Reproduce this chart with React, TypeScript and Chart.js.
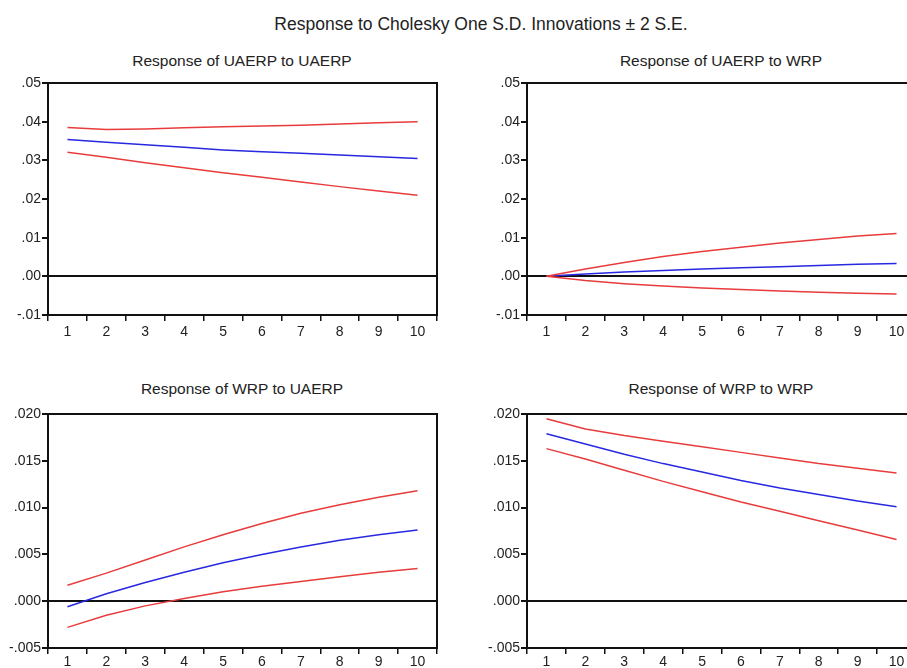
import React, { useEffect, useRef } from 'react';
import { Chart, registerables } from 'chart.js';

Chart.register(...registerables);

// ---------- data ----------
const periods = ['1', '2', '3', '4', '5', '6', '7', '8', '9', '10'];

// Response of UAERP to UAERP
const uuResp = [0.0354, 0.0347, 0.0340, 0.0334, 0.0327, 0.0322, 0.0318, 0.0314, 0.0309, 0.0305];
const uuUpper = [0.0385, 0.0380, 0.0381, 0.0384, 0.0387, 0.0389, 0.0391, 0.0394, 0.0397, 0.0400];
const uuLower = [0.0321, 0.0308, 0.0294, 0.0281, 0.0268, 0.0256, 0.0244, 0.0232, 0.0221, 0.0210];

// Response of UAERP to WRP
const uwResp = [0.0, 0.0006, 0.0011, 0.0015, 0.0019, 0.0022, 0.0025, 0.0028, 0.0031, 0.0033];
const uwUpper = [0.0, 0.0019, 0.0036, 0.0051, 0.0064, 0.0075, 0.0086, 0.0095, 0.0104, 0.0111];
const uwLower = [0.0, -0.0011, -0.0019, -0.0025, -0.0030, -0.0034, -0.0038, -0.0041, -0.0044, -0.0046];

// Response of WRP to UAERP
const wuResp = [-0.0006, 0.0008, 0.0020, 0.0031, 0.0041, 0.0050, 0.0058, 0.0065, 0.0071, 0.0076];
const wuUpper = [0.0017, 0.0030, 0.0044, 0.0058, 0.0071, 0.0083, 0.0094, 0.0103, 0.0111, 0.0118];
const wuLower = [-0.0028, -0.0015, -0.0005, 0.0003, 0.0010, 0.0016, 0.0021, 0.0026, 0.0031, 0.0035];

// Response of WRP to WRP
const wwResp = [0.0179, 0.0168, 0.0157, 0.0147, 0.0138, 0.0129, 0.0121, 0.0114, 0.0107, 0.0101];
const wwUpper = [0.0195, 0.0184, 0.0177, 0.0171, 0.0165, 0.0159, 0.0153, 0.0147, 0.0142, 0.0137];
const wwLower = [0.0163, 0.0152, 0.0140, 0.0128, 0.0117, 0.0106, 0.0096, 0.0086, 0.0076, 0.0066];

const mainTitle = 'Response to Cholesky One S.D. Innovations \u00B1 2 S.E.';
const panelTitles = [
  'Response of UAERP to UAERP',
  'Response of UAERP to WRP',
  'Response of WRP to UAERP',
  'Response of WRP to WRP',
];

// ---------- styling ----------
const FONT = '"Liberation Sans", Arial, Helvetica, sans-serif';
const RED = 'rgb(232, 60, 60)';
const BLUE = 'rgb(40, 40, 225)';
const INK = '#111';
const TEXT = '#222';

function fmt(decimals: number) {
  return (v: number | string) => {
    let n = Number(v);
    if (Math.abs(n) < 1e-12) n = 0;
    const s = n.toFixed(decimals);
    return s.replace(/^(-?)0\./, '$1.');
  };
}

const boxPlugin = {
  id: 'box',
  afterDraw(chart: any) {
    const { ctx, chartArea: a } = chart;
    ctx.save();
    ctx.strokeStyle = INK;
    ctx.lineWidth = 2;
    ctx.strokeRect(a.left, a.top, a.right - a.left, a.bottom - a.top);
    ctx.restore();
  },
};

type PanelProps = {
  left: number;
  top: number;
  width: number;
  height: number;
  resp: number[];
  upper: number[];
  lower: number[];
  min: number;
  max: number;
  step: number;
  decimals: number;
  xPad: number;
};

function Panel(p: PanelProps) {
  const ref = useRef<HTMLCanvasElement | null>(null);
  useEffect(() => {
    if (!ref.current) return;
    const line = (data: number[], color: string) => ({
      data,
      borderColor: color,
      backgroundColor: color,
      borderWidth: 1.5,
      pointRadius: 0,
      tension: 0,
      fill: false,
    });
    const chart = new Chart(ref.current, {
      type: 'line',
      data: {
        labels: periods,
        datasets: [line(p.upper, RED), line(p.lower, RED), line(p.resp, BLUE)],
      },
      options: {
        responsive: false,
        maintainAspectRatio: false,
        animation: false,
        layout: { padding: { top: 43, right: 15, left: 0, bottom: 0 } },
        plugins: {
          legend: { display: false },
          tooltip: { enabled: false },
          title: { display: false },
        },
        scales: {
          x: {
            type: 'category',
            offset: true,
            grid: {
              offset: true,
              drawOnChartArea: false,
              tickColor: INK,
              tickLength: 6,
              lineWidth: 1.5,
            },
            border: { display: true, color: INK, width: 2 },
            ticks: {
              font: { family: FONT, size: 14 },
              color: TEXT,
              padding: p.xPad,
              maxRotation: 0,
              autoSkip: false,
            },
            afterFit: (s: any) => {
              s.height = 25;
            },
          },
          y: {
            type: 'linear',
            min: p.min,
            max: p.max,
            grid: {
              color: (c: any) =>
                c.tick && Math.abs(c.tick.value) < 1e-12 ? INK : 'rgba(0,0,0,0)',
              tickColor: INK,
              tickLength: 6,
              lineWidth: 2,
            },
            border: { display: true, color: INK, width: 2 },
            ticks: {
              stepSize: p.step,
              callback: fmt(p.decimals),
              font: { family: FONT, size: 14 },
              color: TEXT,
              padding: 1,
            },
            afterFit: (s: any) => {
              s.width = 48;
            },
          },
        },
      } as any,
      plugins: [boxPlugin],
    });
    return () => chart.destroy();
  }, []);
  return (
    <canvas
      ref={ref}
      width={p.width}
      height={p.height}
      style={{ position: 'absolute', left: p.left, top: p.top, width: p.width, height: p.height }}
    />
  );
}

function Label({ text, cx, cy, size }: { text: string; cx: number; cy: number; size: number }) {
  return (
    <div
      style={{
        position: 'absolute',
        left: cx - 300,
        top: cy - 12,
        width: 600,
        height: 24,
        lineHeight: '24px',
        textAlign: 'center',
        fontFamily: FONT,
        fontSize: size,
        color: TEXT,
        whiteSpace: 'nowrap',
      }}
    >
      {text}
    </div>
  );
}

export default function App() {
  return (
    <div
      style={{
        position: 'fixed',
        left: 0,
        top: 0,
        width: 907,
        height: 668,
        overflow: 'hidden',
        background: '#fff',
      }}
    >
      <Label text={mainTitle} cx={481} cy={23.5} size={17.5} />
      <Label text={panelTitles[0]} cx={242} cy={60.5} size={15.5} />
      <Label text={panelTitles[1]} cx={721} cy={60.5} size={15.5} />
      <Label text={panelTitles[2]} cx={242} cy={388.5} size={15.5} />
      <Label text={panelTitles[3]} cx={721} cy={388.5} size={15.5} />
      <Panel left={0} top={40} width={452} height={300} resp={uuResp} upper={uuUpper} lower={uuLower}
        min={-0.01} max={0.05} step={0.01} decimals={2} xPad={3} />
      <Panel left={479} top={40} width={452} height={300} resp={uwResp} upper={uwUpper} lower={uwLower}
        min={-0.01} max={0.05} step={0.01} decimals={2} xPad={3} />
      <Panel left={0} top={371} width={452} height={302} resp={wuResp} upper={wuUpper} lower={wuLower}
        min={-0.005} max={0.02} step={0.005} decimals={3} xPad={0} />
      <Panel left={479} top={371} width={452} height={302} resp={wwResp} upper={wwUpper} lower={wwLower}
        min={-0.005} max={0.02} step={0.005} decimals={3} xPad={0} />
    </div>
  );
}
